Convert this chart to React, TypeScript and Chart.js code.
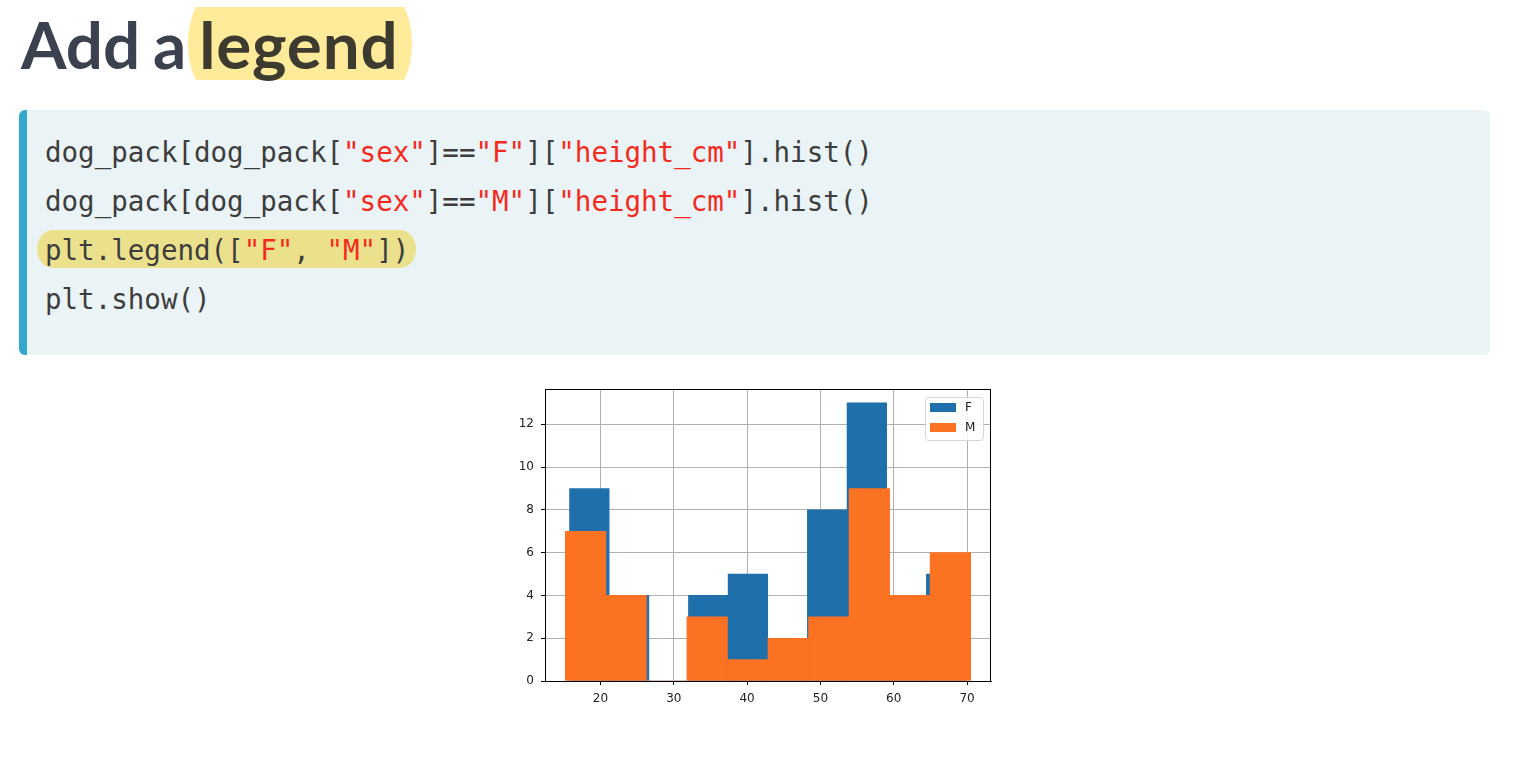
import React, { useEffect, useRef } from "react";
import { Chart, registerables } from "chart.js";

Chart.register(...registerables);

// ---- data ----
const seriesLabels = ["F", "M"];
const femaleBinEdges = [15.77, 21.19, 26.6, 32.0, 37.4, 42.82, 48.22, 53.63, 59.04, 64.45, 69.86];
const femaleCounts = [9, 4, 0, 4, 5, 2, 8, 13, 4, 5];
const maleBinEdges = [15.2, 20.73, 26.26, 31.79, 37.32, 42.85, 48.38, 53.91, 59.44, 64.97, 70.5];
const maleCounts = [7, 4, 0, 3, 1, 2, 3, 9, 4, 6];
const xRange = [12.43, 73.27];
const yRange = [0, 13.65];
const xTickStep = 10;
const yTickStep = 2;

const codeLines: { text: string; red: boolean }[][] = [
  [
    { text: "dog_pack[dog_pack[", red: false },
    { text: "\"sex\"", red: true },
    { text: "]==", red: false },
    { text: "\"F\"", red: true },
    { text: "][", red: false },
    { text: "\"height_cm\"", red: true },
    { text: "].hist()", red: false },
  ],
  [
    { text: "dog_pack[dog_pack[", red: false },
    { text: "\"sex\"", red: true },
    { text: "]==", red: false },
    { text: "\"M\"", red: true },
    { text: "][", red: false },
    { text: "\"height_cm\"", red: true },
    { text: "].hist()", red: false },
  ],
  [
    { text: "plt.legend([", red: false },
    { text: "\"F\"", red: true },
    { text: ", ", red: false },
    { text: "\"M\"", red: true },
    { text: "])", red: false },
  ],
  [{ text: "plt.show()", red: false }],
];

const COLORS = ["#1f6fab", "#fb7223"];

function toBars(edges: number[], counts: number[]) {
  return counts.map((c, i) => ({ x: (edges[i] + edges[i + 1]) / 2, y: c }));
}

const frameAndLegend = {
  id: "frameAndLegend",
  afterDraw(chart: any) {
    const { ctx, chartArea } = chart;
    ctx.save();
    // full frame
    ctx.strokeStyle = "#000";
    ctx.lineWidth = 1;
    ctx.strokeRect(
      Math.round(chartArea.left) + 0.5,
      Math.round(chartArea.top) + 0.5,
      Math.round(chartArea.right - chartArea.left) - 1,
      Math.round(chartArea.bottom - chartArea.top)
    );
    // legend box
    const w = 58;
    const h = 43;
    const x = Math.round(chartArea.right) - 8 - w + 0.5;
    const y = Math.round(chartArea.top) + 8 + 0.5;
    const r = 3;
    ctx.beginPath();
    ctx.moveTo(x + r, y);
    ctx.lineTo(x + w - r, y);
    ctx.quadraticCurveTo(x + w, y, x + w, y + r);
    ctx.lineTo(x + w, y + h - r);
    ctx.quadraticCurveTo(x + w, y + h, x + w - r, y + h);
    ctx.lineTo(x + r, y + h);
    ctx.quadraticCurveTo(x, y + h, x, y + h - r);
    ctx.lineTo(x, y + r);
    ctx.quadraticCurveTo(x, y, x + r, y);
    ctx.closePath();
    ctx.fillStyle = "rgba(255,255,255,0.85)";
    ctx.fill();
    ctx.strokeStyle = "#d6d6d6";
    ctx.stroke();
    ctx.font = '12px "DejaVu Sans"';
    ctx.textBaseline = "middle";
    chart.data.datasets.forEach((ds: any, i: number) => {
      ctx.fillStyle = ds.backgroundColor;
      ctx.fillRect(x + 4.5, y + 5.5 + i * 20, 26, 9);
      ctx.fillStyle = "#222";
      ctx.fillText(ds.label, x + 39.5, y + 10 + i * 20);
    });
    ctx.restore();
  },
};

function HistChart() {
  const ref = useRef<HTMLCanvasElement | null>(null);
  useEffect(() => {
    if (!ref.current) return;
    const tickFont = { family: '"DejaVu Sans"', size: 12 };
    const chart = new Chart(ref.current, {
      type: "bar",
      data: {
        datasets: [
          {
            label: seriesLabels[0],
            data: toBars(femaleBinEdges, femaleCounts),
            backgroundColor: COLORS[0],
            borderWidth: 0,
            barPercentage: 1,
            categoryPercentage: 1,
            xAxisID: "x",
            order: 2,
            grouped: false,
          } as any,
          {
            label: seriesLabels[1],
            data: toBars(maleBinEdges, maleCounts),
            backgroundColor: COLORS[1],
            borderWidth: 0,
            barPercentage: 1,
            categoryPercentage: 1,
            xAxisID: "x2",
            order: 1,
            grouped: false,
          } as any,
        ],
      },
      options: {
        responsive: false,
        animation: false,
        devicePixelRatio: 1,
        layout: { padding: { top: 9, right: 19, left: 0, bottom: 0 } },
        plugins: { legend: { display: false }, tooltip: { enabled: false } },
        scales: {
          x: {
            type: "linear",
            position: "bottom",
            min: xRange[0],
            max: xRange[1],
            offset: false,
            z: 1,
            grid: {
              color: "#b0b0b0",
              lineWidth: 1,
              drawTicks: true,
              tickLength: 4,
              tickColor: "#000",
              offset: false,
            },
            border: { display: true, color: "#000", width: 1 },
            ticks: {
              stepSize: xTickStep,
              includeBounds: false,
              color: "#222",
              font: tickFont,
              padding: 7,
              maxRotation: 0,
            },
            afterFit: (s: any) => {
              s.height = 29;
              s.paddingLeft = 0;
              s.paddingRight = 0;
            },
          } as any,
          x2: {
            type: "linear",
            display: false,
            min: xRange[0],
            max: xRange[1],
            offset: false,
            ticks: { stepSize: xTickStep, includeBounds: false },
          } as any,
          y: {
            type: "linear",
            min: yRange[0],
            max: yRange[1],
            z: 1,
            grid: {
              color: "#b0b0b0",
              lineWidth: 1,
              drawTicks: true,
              tickLength: 4,
              tickColor: "#000",
            },
            border: { display: true, color: "#000", width: 1 },
            ticks: {
              stepSize: yTickStep,
              includeBounds: false,
              color: "#222",
              font: tickFont,
              padding: 7,
            },
            afterFit: (s: any) => {
              s.width = 45;
              s.paddingTop = 0;
              s.paddingBottom = 0;
            },
          } as any,
        },
      },
      plugins: [frameAndLegend],
    });
    return () => chart.destroy();
  }, []);
  return <canvas ref={ref} width={510} height={330} style={{ display: "block" }} />;
}

export default function App() {
  return (
    <div
      style={{
        position: "absolute",
        left: 0,
        top: 0,
        width: 1518,
        height: 758,
        background: "#fff",
        overflow: "hidden",
      }}
    >
      {/* title highlight */}
      <div
        style={{
          position: "absolute",
          left: 188,
          top: 7,
          width: 224,
          height: 73,
          overflow: "hidden",
        }}
      >
        <div
          style={{
            position: "absolute",
            left: 0,
            top: -22,
            width: 224,
            height: 117,
            borderRadius: "36px / 58px",
            background: "#ffeb99",
          }}
        />
      </div>
      <div
        style={{
          position: "absolute",
          left: 21,
          top: 11,
          fontFamily: "Lato, sans-serif",
          fontWeight: 700,
          fontSize: 65.5,
          lineHeight: 1,
          color: "#3c4150",
          whiteSpace: "pre",
          wordSpacing: -3,
        }}
      >
        Add a <span style={{ color: "#3d3b30", letterSpacing: 0.8 }}>legend</span>
      </div>

      {/* code block */}
      <div
        style={{
          position: "absolute",
          left: 19,
          top: 110,
          width: 1463,
          height: 245,
          background: "#eaf3f6",
          borderLeft: "8px solid #33a8cc",
          borderRadius: 6,
        }}
      />
      <div
        style={{
          position: "absolute",
          left: 37,
          top: 230,
          width: 379,
          height: 38,
          background: "#ebe18d",
          borderRadius: "16px / 19px",
        }}
      />
      <div
        style={{
          position: "absolute",
          left: 45,
          top: 128,
          fontFamily: '"DejaVu Sans Mono", monospace',
          fontSize: 27.5,
          lineHeight: "49px",
          color: "#3d3d3d",
          whiteSpace: "pre",
        }}
      >
        {codeLines.map((line, i) => (
          <div key={i}>
            {line.map((seg, j) => (
              <span key={j} style={{ color: seg.red ? "#f52a1e" : "#3d3d3d" }}>
                {seg.text}
              </span>
            ))}
          </div>
        ))}
      </div>

      {/* chart */}
      <div style={{ position: "absolute", left: 500, top: 380, width: 510, height: 330 }}>
        <HistChart />
      </div>
    </div>
  );
}
